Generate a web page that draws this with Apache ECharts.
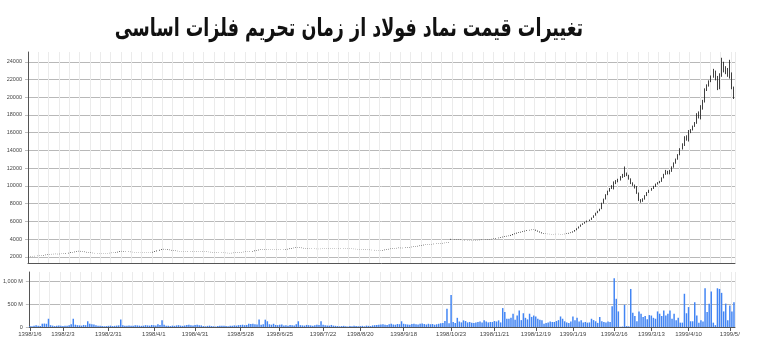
<!DOCTYPE html>
<html><head><meta charset="utf-8">
<script src="https://cdn.jsdelivr.net/npm/echarts@6/dist/echarts.min.js"></script>
<style>html,body{margin:0;padding:0;background:#fff}#c{width:768px;height:364px}</style>
</head><body><div id="c"></div>
<script>
const titleText = 'تغییرات قیمت نماد فولاد از زمان تحریم فلزات اساسی';
const tickIndex = [0,16,38,60,80,102,121,142,160,181,204,225,245,263,283,301,319,339];
const tickLabels = ['1398/1/6','1398/2/3','1398/2/31','1398/4/1','1398/4/31','1398/5/28','1398/6/25','1398/7/22','1398/8/20','1398/9/18','1398/10/23','1398/11/21','1398/12/19','1399/1/19','1399/2/16','1399/3/13','1399/4/10','1399/5/'];
const priceTicks = [2000,4000,6000,8000,10000,12000,14000,16000,18000,20000,22000,24000];
const volumeTicks = [0,500,1000];
// [open, close, low, high]
const ohlc = [
[2030,2040,2020,2050],[2040,2060,2030,2070],[2060,2070,2050,2080],[2070,2090,2060,2100],[2090,2110,2080,2120],
[2110,2130,2100,2140],[2130,2150,2120,2160],[2150,2190,2140,2200],[2190,2230,2180,2240],[2230,2270,2220,2280],
[2270,2290,2260,2300],[2290,2300,2280,2320],[2300,2310,2290,2330],[2310,2320,2300,2340],[2320,2300,2290,2330],
[2300,2330,2290,2340],[2330,2340,2320,2350],[2340,2350,2330,2370],[2350,2390,2340,2400],[2390,2440,2380,2450],
[2440,2500,2430,2510],[2500,2520,2490,2540],[2520,2570,2510,2580],[2570,2620,2560,2630],[2620,2650,2610,2670],
[2650,2610,2600,2660],[2610,2580,2570,2620],[2580,2540,2530,2590],[2540,2500,2490,2550],[2500,2470,2460,2510],
[2470,2440,2430,2480],[2440,2420,2410,2450],[2420,2410,2400,2430],[2410,2400,2390,2420],[2400,2390,2380,2410],
[2390,2380,2370,2400],[2380,2390,2370,2400],[2390,2400,2380,2410],[2400,2410,2390,2420],[2410,2430,2400,2440],
[2430,2450,2420,2460],[2450,2460,2440,2470],[2460,2500,2450,2510],[2500,2560,2490,2570],[2560,2620,2550,2640],
[2620,2640,2610,2660],[2640,2600,2590,2650],[2600,2580,2570,2610],[2580,2560,2550,2590],[2560,2540,2530,2570],
[2540,2530,2520,2550],[2530,2520,2510,2540],[2520,2510,2500,2530],[2510,2500,2490,2520],[2500,2500,2490,2510],
[2500,2490,2480,2510],[2490,2480,2470,2500],[2480,2490,2470,2500],[2490,2500,2480,2510],[2500,2490,2480,2510],
[2490,2550,2480,2560],[2550,2620,2540,2630],[2620,2700,2610,2710],[2700,2780,2690,2790],[2780,2840,2770,2860],
[2840,2870,2830,2890],[2870,2850,2840,2880],[2850,2800,2790,2860],[2800,2760,2750,2810],[2760,2720,2710,2770],
[2720,2690,2680,2730],[2690,2660,2650,2700],[2660,2640,2630,2670],[2640,2630,2620,2650],[2630,2620,2610,2640],
[2620,2610,2600,2630],[2610,2620,2600,2630],[2620,2600,2590,2630],[2600,2590,2580,2610],[2590,2610,2580,2620],
[2610,2600,2590,2620],[2600,2620,2590,2630],[2620,2610,2600,2630],[2610,2600,2590,2620],[2600,2580,2570,2610],
[2580,2570,2560,2590],[2570,2550,2540,2580],[2550,2540,2530,2560],[2540,2520,2510,2550],[2520,2500,2490,2530],
[2500,2490,2480,2510],[2490,2470,2460,2500],[2470,2460,2450,2480],[2460,2450,2440,2470],[2450,2440,2430,2460],
[2440,2430,2420,2450],[2430,2420,2410,2440],[2420,2410,2400,2430],[2410,2430,2400,2440],[2430,2450,2420,2460],
[2450,2470,2440,2480],[2470,2490,2460,2500],[2490,2510,2480,2520],[2510,2530,2500,2540],[2530,2550,2520,2560],
[2550,2570,2540,2580],[2570,2580,2560,2590],[2580,2600,2570,2610],[2600,2640,2590,2650],[2640,2700,2630,2710],
[2700,2740,2690,2750],[2740,2780,2730,2800],[2780,2800,2770,2820],[2800,2810,2790,2830],[2810,2820,2800,2850],
[2820,2800,2790,2830],[2800,2790,2780,2810],[2790,2800,2780,2810],[2800,2810,2790,2820],[2810,2800,2790,2820],
[2800,2790,2780,2810],[2790,2800,2780,2810],[2800,2790,2780,2810],[2790,2800,2780,2810],[2800,2840,2790,2850],
[2840,2880,2830,2890],[2880,2930,2870,2940],[2930,2980,2920,2990],[2980,3010,2970,3020],[3010,3040,3000,3060],
[3040,3050,3030,3070],[3050,3020,3010,3060],[3020,2990,2980,3030],[2990,2960,2950,3000],[2960,2940,2930,2970],
[2940,2920,2910,2950],[2920,2910,2900,2930],[2910,2900,2890,2920],[2900,2890,2880,2910],[2890,2880,2870,2900],
[2880,2880,2870,2890],[2880,2890,2870,2900],[2890,2900,2880,2910],[2900,2910,2890,2920],[2910,2920,2900,2930],
[2920,2930,2910,2940],[2930,2940,2920,2950],[2940,2950,2930,2960],[2950,2960,2940,2970],[2960,2960,2950,2970],
[2960,2950,2940,2970],[2950,2940,2930,2960],[2940,2930,2920,2950],[2930,2920,2910,2940],[2920,2910,2900,2930],
[2910,2900,2890,2920],[2900,2890,2880,2910],[2890,2880,2870,2900],[2880,2870,2860,2890],[2870,2860,2850,2880],
[2860,2850,2840,2870],[2850,2840,2830,2860],[2840,2820,2810,2850],[2820,2800,2790,2830],[2800,2790,2780,2810],
[2790,2770,2760,2800],[2770,2760,2750,2780],[2760,2740,2730,2770],[2740,2730,2720,2750],[2730,2720,2710,2740],
[2720,2710,2700,2730],[2710,2750,2700,2760],[2750,2800,2740,2810],[2800,2840,2790,2850],[2840,2880,2830,2890],
[2880,2910,2870,2920],[2910,2940,2900,2950],[2940,2960,2930,2970],[2960,2990,2950,3000],[2990,3010,2980,3030],
[3010,2980,2970,3020],[2980,3000,2970,3010],[3000,3030,2990,3040],[3030,3060,3020,3070],[3060,3090,3050,3100],
[3090,3120,3080,3130],[3120,3150,3110,3160],[3150,3180,3140,3190],[3180,3220,3170,3230],[3220,3260,3210,3270],
[3260,3300,3250,3310],[3300,3350,3290,3360],[3350,3370,3340,3380],[3370,3390,3360,3400],[3390,3410,3380,3420],
[3410,3430,3400,3440],[3430,3460,3420,3470],[3460,3480,3450,3490],[3480,3500,3470,3510],[3500,3520,3490,3530],
[3520,3550,3510,3560],[3550,3570,3540,3580],[3570,3590,3560,3600],[3590,3610,3580,3630],[3950,4000,3940,4020],
[4000,3980,3970,4010],[3980,3960,3950,3990],[3960,3940,3930,3970],[3940,3920,3910,3950],[3920,3900,3890,3930],
[3900,3890,3880,3910],[3890,3870,3860,3900],[3870,3860,3850,3880],[3860,3850,3840,3870],[3850,3840,3830,3860],
[3840,3850,3830,3860],[3850,3870,3840,3880],[3870,3880,3860,3890],[3880,3900,3870,3910],[3900,3920,3890,3930],
[3920,3940,3910,3950],[3940,3950,3930,3960],[3950,3970,3940,3980],[3970,3990,3960,4000],[3990,4000,3980,4020],
[4000,4050,3990,4060],[4050,4100,4040,4110],[4100,4150,4090,4160],[4150,4200,4140,4220],[4200,4250,4190,4270],
[4250,4300,4240,4320],[4300,4340,4290,4360],[4340,4370,4330,4390],[4370,4450,4360,4470],[4450,4550,4440,4570],
[4550,4620,4540,4640],[4620,4700,4610,4720],[4700,4740,4690,4770],[4740,4800,4730,4820],[4800,4860,4790,4880],
[4860,4920,4850,4940],[4920,4980,4910,5000],[4980,5020,4970,5040],[5020,5040,5010,5070],[5040,5050,5030,5080],
[5050,4950,4940,5060],[4950,4850,4840,4960],[4850,4750,4740,4860],[4750,4650,4640,4760],[4650,4600,4590,4660],
[4600,4580,4570,4610],[4580,4570,4560,4590],[4570,4560,4550,4580],[4560,4550,4540,4570],[4550,4560,4540,4570],
[4560,4570,4550,4580],[4570,4560,4550,4580],[4560,4550,4540,4570],[4550,4560,4540,4570],[4560,4580,4550,4590],
[4580,4620,4570,4640],[4620,4680,4610,4700],[4680,4740,4670,4760],[4740,4850,4730,4870],[4850,5000,4840,5020],
[5000,5200,4990,5220],[5200,5400,5190,5420],[5400,5610,5390,5640],[5610,5750,5600,5780],[5750,5900,5740,5930],
[5900,6050,5890,6080],[6050,6170,6040,6200],[6170,6400,6160,6430],[6400,6650,6390,6680],[6650,6930,6640,6970],
[6930,7150,6920,7190],[7150,7380,7140,7420],[7380,8050,7370,8100],[8050,8500,8000,8560],[8500,9000,8460,9060],
[9000,9400,8950,9460],[9400,9700,9350,9760],[9700,10000,9650,10080],[10000,10310,9600,10500],[10310,10500,10200,10650],
[10500,10690,10400,10800],[10690,11000,10600,11100],[11000,11200,10900,11350],[11200,11440,11000,12190],[11440,11200,11100,11500],
[11200,10800,10700,11250],[10800,10310,10200,10850],[10310,10100,10000,10400],[10100,9930,9700,10150],[9930,9200,9100,9980],
[9200,8430,8300,9250],[8430,8240,8100,8500],[8240,8500,8200,8600],[8500,8900,8450,8950],[8900,9250,8850,9300],
[9250,9500,9200,9560],[9500,9700,9450,9760],[9700,9930,9650,10000],[9930,10200,9880,10260],[10200,10350,10150,10420],
[10350,10490,10300,10560],[10490,10900,10450,10960],[10900,11300,10850,11360],[11300,11620,11250,11800],[11620,11400,11300,11700],
[11400,11620,11300,11800],[11620,12100,11580,12200],[12100,12570,12050,12650],[12570,13000,12500,13080],[13000,13500,12950,13580],
[13500,14150,13450,14250],[14150,14700,14100,14800],[14700,15200,14500,15600],[15200,15600,15100,15700],[15600,16020,15000,16300],
[16020,16300,15950,16400],[16300,16700,16250,16800],[16700,17080,16650,17200],[17080,17640,17000,18200],[17640,18300,17600,18400],
[18300,18900,17500,19100],[18900,19520,18600,19700],[19520,20840,19400,21000],[20840,21300,20700,21450],[21300,21780,21200,21900],
[21780,22300,21700,22450],[22300,22910,22200,23200],[22910,22200,21900,23000],[22200,21000,20800,22400],[21000,22500,20900,22700],
[22500,23290,22300,24450],[23290,23100,22800,24000],[23100,22910,22600,23500],[22910,22530,22300,23300],[22530,22700,22100,24220],
[22700,21030,20900,22800],[21030,19900,19800,21200]
];
// traded volume, millions
const volume = [
20,15,25,40,30,20,72,75,70,180,
40,30,20,25,35,30,20,25,30,40,
60,180,50,40,35,30,45,40,125,70,
60,55,40,30,25,20,15,20,25,30,
20,25,30,35,166,40,30,25,35,30,
25,40,35,30,25,30,40,35,30,45,
40,35,60,45,145,50,30,25,20,30,
25,35,40,30,25,35,45,50,40,35,
45,50,40,35,20,15,25,30,20,15,
10,20,25,30,25,20,15,25,30,35,
30,40,45,50,40,45,72,65,72,60,
55,166,50,60,160,125,60,50,70,45,
40,50,55,35,40,30,45,40,35,60,
125,40,35,30,45,40,35,30,40,50,
45,125,50,40,35,30,45,30,25,20,
15,20,25,15,10,20,15,25,20,15,
20,25,15,30,25,20,35,40,45,50,
55,60,50,45,60,70,55,50,65,60,
125,70,60,55,50,65,70,60,55,70,
75,65,55,70,60,65,50,60,70,80,
90,130,400,80,700,110,90,200,120,100,
145,130,100,110,95,87,100,110,120,100,
145,120,100,110,110,130,120,145,100,413,
325,180,180,200,290,160,250,360,150,300,
200,166,290,220,250,230,180,160,145,72,
90,100,120,110,110,130,150,230,180,125,
100,87,120,230,150,200,120,145,100,110,
95,100,180,150,125,90,220,125,110,100,
120,110,455,1065,615,340,5,10,485,20,
15,830,310,240,125,340,290,220,240,170,
260,250,200,180,340,290,240,360,250,290,
360,180,290,150,200,95,95,725,300,435,
125,125,540,250,95,150,120,845,325,510,
775,95,40,845,830,745,340,510,150,470,
340,540
];

const days = ohlc.map((_, i) => String(i));
const labelAt = {};
tickIndex.forEach((idx, k) => { labelAt[idx] = tickLabels[k]; });
const isTick = (i) => Object.prototype.hasOwnProperty.call(labelAt, i);

const FONT = 'Liberation Sans';
const chart = echarts.init(document.getElementById('c'), null, {renderer: 'canvas'});
chart.setOption({
  animation: false,
  backgroundColor: '#ffffff',
  graphic: [{
    type: 'text', x: 349, y: 29, scaleX: 0.73, scaleY: 1.05, silent: true,
    style: {text: titleText, fontFamily: 'DejaVu Sans', fontWeight: 'bold', fontSize: 24,
      fill: '#111', textAlign: 'center', textVerticalAlign: 'middle'}
  }],
  grid: [
    {left: 28, right: 33, top: 52, height: 211},
    {left: 28, right: 33, top: 272, height: 55}
  ],
  xAxis: [
    {type: 'category', gridIndex: 0, data: days, boundaryGap: true,
     axisLine: {show: true, lineStyle: {color: '#555', width: 1}},
     axisTick: {show: false}, axisLabel: {show: false},
     splitLine: {show: true, interval: 4, lineStyle: {color: '#ebebeb', width: 1}}},
    {type: 'category', gridIndex: 1, data: days, boundaryGap: true,
     axisLine: {show: true, lineStyle: {color: '#555', width: 1}},
     axisTick: {show: true, alignWithLabel: true, interval: (i) => isTick(i), length: 4, lineStyle: {color: '#555'}},
     axisLabel: {show: true, interval: (i) => isTick(i), formatter: (v, i) => labelAt[i] || '',
       fontFamily: FONT, fontSize: 6, color: '#444', margin: 4},
     splitLine: {show: true, interval: 4, lineStyle: {color: '#ebebeb', width: 1}}}
  ],
  yAxis: [
    {type: 'value', gridIndex: 0, min: 1300, max: 25100,
     axisLine: {show: true, lineStyle: {color: '#555', width: 1}},
     axisTick: {show: true, length: 3, customValues: priceTicks, lineStyle: {color: '#bbb'}},
     axisLabel: {show: true, customValues: priceTicks, formatter: (v) => String(v),
       fontFamily: FONT, fontSize: 5.5, color: '#444', margin: 6},
     splitLine: {show: true, lineStyle: {color: '#b8b8b8', width: 1}}},
    {type: 'value', gridIndex: 1, min: 0, max: 1200,
     axisLine: {show: true, lineStyle: {color: '#555', width: 1}},
     axisTick: {show: true, length: 3, customValues: volumeTicks, lineStyle: {color: '#bbb'}},
     axisLabel: {show: true, customValues: volumeTicks, fontFamily: FONT, fontSize: 5.5, color: '#444', margin: 6,
       formatter: (v) => v === 0 ? '0' : v.toLocaleString('en-US') + ' M'},
     splitLine: {show: true, lineStyle: {color: '#b8b8b8', width: 1}}}
  ],
  series: [
    {type: 'candlestick', xAxisIndex: 0, yAxisIndex: 0, data: ohlc, barWidth: 1,
     itemStyle: {color: '#444', color0: '#111', borderColor: '#111', borderColor0: '#111', borderWidth: 0.8}},
    {type: 'bar', xAxisIndex: 1, yAxisIndex: 1, data: volume, barWidth: '72%',
     itemStyle: {color: '#4285F4'}}
  ]
});
</script></body></html>
